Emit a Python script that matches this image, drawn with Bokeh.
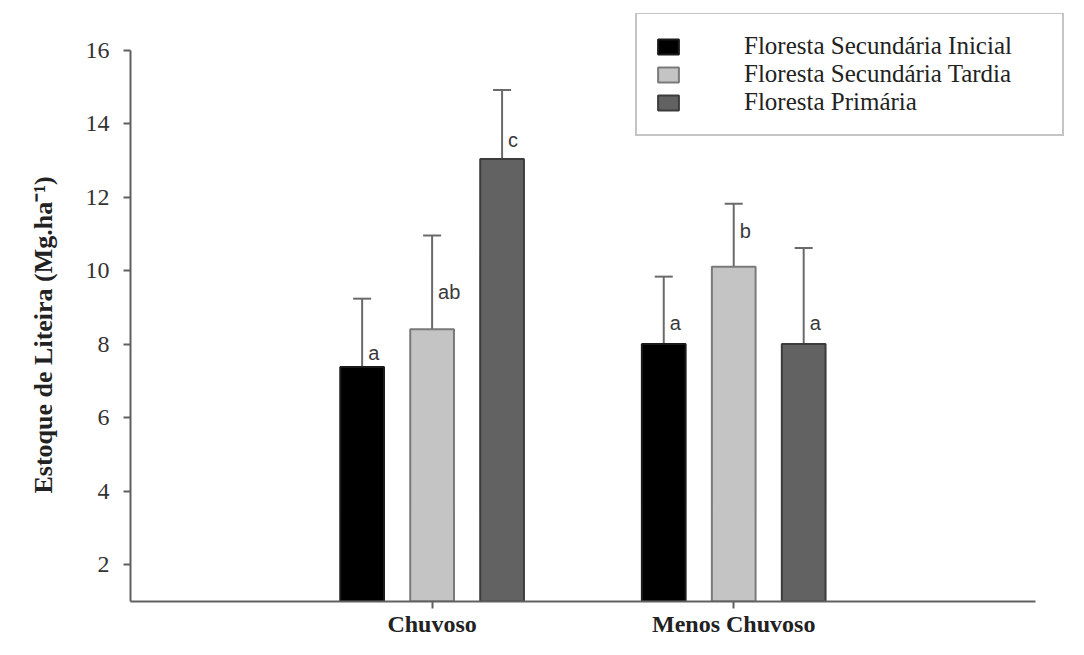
from bokeh.plotting import figure
from bokeh.models import (ColumnDataSource, Range1d, FixedTicker, Legend, LegendItem,
                          Whisker, LabelSet, TeeHead, Title)
from bokeh.transform import dodge
from bokeh.core.properties import value
from bokeh.embed import file_html
from bokeh.resources import INLINE

# ---- data ----
periods = ["Chuvoso", "Menos Chuvoso"]
period_pos = [0, 1]
series_names = ["Floresta Secundária Inicial", "Floresta Secundária Tardia", "Floresta Primária"]
means_inicial = [7.38, 8.01]
means_tardia = [8.41, 10.11]
means_primaria = [13.04, 8.01]
upper_inicial = [9.24, 9.84]
upper_tardia = [10.96, 11.82]
upper_primaria = [14.92, 10.62]
letters_inicial = ["a", "a"]
letters_tardia = ["ab", "b"]
letters_primaria = ["c", "a"]
letter_y_inicial = [7.75, 8.59]
letter_y_tardia = [9.42, 11.08]
letter_y_primaria = [13.55, 8.59]
y_ticks = [2, 4, 6, 8, 10, 12, 14, 16]
y_title = "Estoque de Liteira (Mg.ha⁻¹)"

fills = ["#000000", "#c4c4c4", "#626262"]
borders = ["#1a1a1a", "#7a7a7a", "#3c3c3c"]
offsets = [-0.232, 0.0, 0.232]

p = figure(width=1068, height=639, output_backend="svg", toolbar_location=None,
           x_range=Range1d(-1.0, 2.11), y_range=Range1d(1.0, 17.0),
           min_border_left=130, min_border_right=0, min_border_top=13, min_border_bottom=37)
p.outline_line_color = None
p.xgrid.visible = False
p.ygrid.visible = False
p.background_fill_color = "white"

means = [means_inicial, means_tardia, means_primaria]
uppers = [upper_inicial, upper_tardia, upper_primaria]
letters = [letters_inicial, letters_tardia, letters_primaria]
letter_ys = [letter_y_inicial, letter_y_tardia, letter_y_primaria]

items = []
for i in range(3):
    src = ColumnDataSource(dict(pos=period_pos, mean=means[i], upper=uppers[i],
                                letter=letters[i], ly=letter_ys[i]))
    xs = dodge("pos", offsets[i], range=p.x_range)
    r = p.vbar(x=xs, top="mean", bottom=1.0, width=0.145, source=src,
               fill_color=fills[i], line_color=borders[i], line_width=2)
    w = Whisker(source=src, base=dodge("pos", offsets[i], range=p.x_range),
                lower="mean", upper="upper", line_color="#6a6a6a", line_width=2,
                lower_head=None,
                upper_head=TeeHead(size=18, line_color="#6a6a6a", line_width=2))
    p.add_layout(w)
    lbl = LabelSet(x=dodge("pos", offsets[i], range=p.x_range), y="ly", text="letter",
                   source=src, x_offset=6, text_align="left", text_baseline="middle",
                   text_font=value("Liberation Sans"), text_font_size="20px",
                   text_color="#3a3a3a")
    p.add_layout(lbl)
    items.append(LegendItem(label=series_names[i], renderers=[r]))

legend = Legend(items=items, location=(505, 465), orientation="vertical",
                border_line_color="#8a8a8a", border_line_width=2,
                background_fill_color="white", background_fill_alpha=1.0,
                padding=18, margin=0, spacing=0,
                glyph_width=26, glyph_height=19, label_height=19,
                label_standoff=63, label_width=300,
                label_text_font="Liberation Serif", label_text_font_size="25px",
                label_text_color="#222222")
p.add_layout(legend, "center")

# y-axis title as a side title so it can sit along the drawn axis line
p.add_layout(Title(text=y_title, align="left", offset=108, standoff=49,
                   text_font="Liberation Serif", text_font_style="bold",
                   text_font_size="26px", text_color="#222222"), "left")

# axes
ax = p.yaxis[0]
ax.ticker = FixedTicker(ticks=y_ticks)
ax.bounds = (1, 16)
ax.axis_line_color = "#606060"
ax.axis_line_width = 2
ax.major_tick_line_color = "#606060"
ax.major_tick_line_width = 2
ax.major_tick_out = 7
ax.major_tick_in = 0
ax.minor_tick_line_color = None
ax.major_label_standoff = 14
ax.major_label_text_font = "Liberation Serif"
ax.major_label_text_font_size = "24px"
ax.major_label_text_color = "#333333"

bx = p.xaxis[0]
bx.ticker = FixedTicker(ticks=period_pos)
bx.major_label_overrides = {pos: name for pos, name in zip(period_pos, periods)}
bx.bounds = (-1, 2)
bx.axis_line_color = "#606060"
bx.axis_line_width = 2
bx.major_tick_line_color = "#606060"
bx.major_tick_line_width = 2
bx.major_tick_out = 7
bx.major_tick_in = 0
bx.minor_tick_line_color = None
bx.major_label_standoff = 2
bx.major_label_text_font = "Liberation Serif"
bx.major_label_text_font_style = "bold"
bx.major_label_text_font_size = "24px"
bx.major_label_text_color = "#222222"

open("out.html", "w").write(file_html(p, INLINE))
